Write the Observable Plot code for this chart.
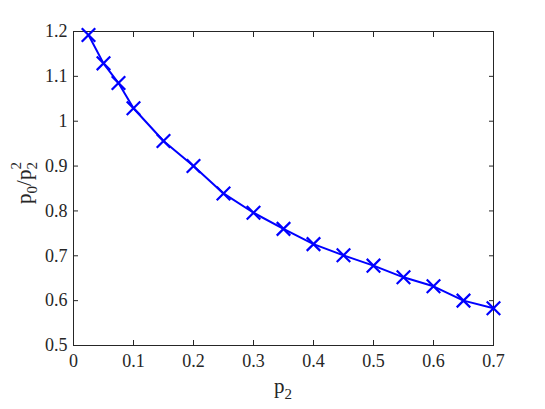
<!DOCTYPE html>
<html><head><meta charset="utf-8">
<script src="https://cdn.jsdelivr.net/npm/d3@7"></script>
<script src="https://cdn.jsdelivr.net/npm/@observablehq/plot@0.6"></script>
<style>body{margin:0;background:#fff}</style>
</head><body><div id="chart"></div>
<script>
const p2 = [0.025, 0.05, 0.075, 0.1, 0.15, 0.2, 0.25, 0.3, 0.35, 0.4, 0.45, 0.5, 0.55, 0.6, 0.65, 0.7];
const ratio = [1.192, 1.129, 1.085, 1.029, 0.956, 0.900, 0.839, 0.796, 0.760, 0.726, 0.701, 0.678, 0.652, 0.632, 0.600, 0.583];
const xTicks = [0, 0.1, 0.2, 0.3, 0.4, 0.5, 0.6, 0.7];
const yTicks = [0.5, 0.6, 0.7, 0.8, 0.9, 1, 1.1, 1.2];

const data = p2.map((x, i) => ({x, y: ratio[i]}));
const axisColor = "#262626";
const font = "Liberation Serif";

const chart = Plot.plot({
  width: 545, height: 409,
  marginLeft: 73, marginRight: 52, marginTop: 31, marginBottom: 64,
  style: {fontFamily: font, fontSize: "18px", color: axisColor, background: "#fff"},
  x: {domain: [0, 0.7], ticks: xTicks},
  y: {domain: [0.5, 1.2], ticks: yTicks},
  marks: [
    Plot.frame({stroke: axisColor, strokeWidth: 1}),
    Plot.axisX(xTicks, {anchor: "bottom", tickSize: 0, tickPadding: 9, label: null, tickFormat: d => String(d), fill: axisColor, fontVariant: "normal"}),
    Plot.axisX(xTicks, {anchor: "bottom", tickSize: -5, text: null, label: null, stroke: axisColor}),
    Plot.axisX(xTicks, {anchor: "top", tickSize: -5, text: null, label: null, stroke: axisColor}),
    Plot.axisY(yTicks, {anchor: "left", tickSize: 0, tickPadding: 6, label: null, tickFormat: d => String(d), fill: axisColor, fontVariant: "normal"}),
    Plot.axisY(yTicks, {anchor: "left", tickSize: -5, text: null, label: null, stroke: axisColor}),
    Plot.axisY(yTicks, {anchor: "right", tickSize: -5, text: null, label: null, stroke: axisColor}),
    Plot.line(data, {x: "x", y: "y", stroke: "#0000ff", strokeWidth: 2}),
    Plot.dot(data, {x: "x", y: "y", symbol: "times", r: 6.2, stroke: "#0000ff", strokeWidth: 2.2})
  ]
});
document.getElementById("chart").appendChild(chart);

const svg = d3.select(chart);
// x label: p_2
const xl = svg.append("text")
  .attr("x", 283).attr("y", 393)
  .attr("text-anchor", "middle")
  .attr("font-family", font).attr("font-size", 21).attr("fill", axisColor);
xl.append("tspan").text("p");
xl.append("tspan").attr("font-size", 15).attr("dy", 6).text("2");

// y label: p_0/p_2^2
const yl = svg.append("text")
  .attr("transform", "translate(31,183) rotate(-90)")
  .attr("text-anchor", "middle")
  .attr("font-family", font).attr("font-size", 21).attr("fill", axisColor);
yl.append("tspan").text("p");
yl.append("tspan").attr("font-size", 15).attr("dy", 6).text("0");
yl.append("tspan").attr("dy", -6).text("/p");
yl.append("tspan").attr("font-size", 15).attr("dy", 6).text("2");
yl.append("tspan").attr("font-size", 15).attr("dx", -7.5).attr("dy", -16).text("2");
</script>
</body></html>
